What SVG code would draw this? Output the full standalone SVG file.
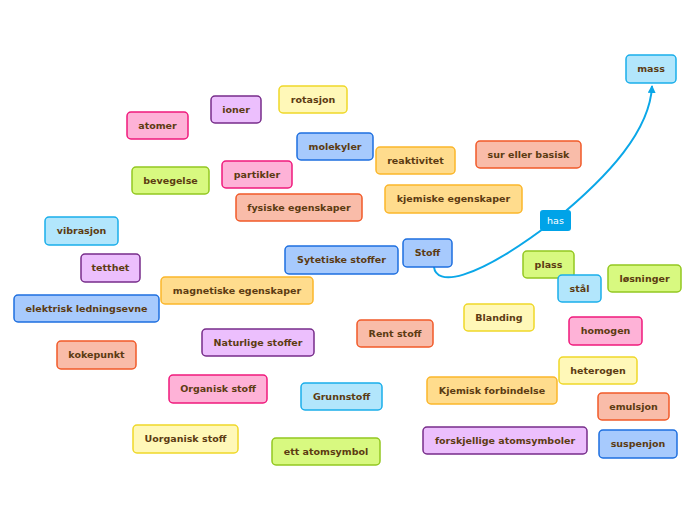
<svg xmlns="http://www.w3.org/2000/svg" width="696" height="520" viewBox="0 0 696 520">
<defs>
<style>
rect.n{stroke-width:1.5;rx:4;ry:4}
text{font-family:"DejaVu Sans","Verdana",sans-serif;font-weight:bold;font-size:9.5px;fill:#5c3b12;text-anchor:middle}
.pink{fill:#feb2d7;stroke:#f01a7c}
.purple{fill:#ecbffd;stroke:#772d8a}
.yellow{fill:#fff8b8;stroke:#efd829}
.blue{fill:#a7cafd;stroke:#1e6fdf}
.lblue{fill:#b2e6fc;stroke:#1aaeea}
.orange{fill:#ffdc8d;stroke:#fbb62a}
.salmon{fill:#f9bca9;stroke:#f15a29}
.green{fill:#d8f980;stroke:#93c720}
.conn{fill:none;stroke:#0aa7e8;stroke-width:2}
</style>
<marker id="arr" markerWidth="10" markerHeight="8" refX="7" refY="4" orient="auto" markerUnits="userSpaceOnUse">
<path d="M0,0 L8,4 L0,8 z" fill="#0aa7e8"/>
</marker>
</defs>
<rect width="696" height="520" fill="#ffffff"/>
<g id="connectors">
<path class="conn" d="M434,267 C436,285 470,285 555,220 C610,175 650,130 652,86" marker-end="url(#arr)"/>
<g id="label-has">
<rect x="540" y="210" width="31" height="21" rx="3" fill="#00a3e8"/>
<text x="555.5" y="223.5" style="fill:#ffffff;font-weight:normal">has</text>
</g>
</g>
<g id="n-atomer"><rect class="n pink" x="127" y="112" width="61" height="27"/><text x="157.5" y="128.9">atomer</text></g>
<g id="n-ioner"><rect class="n purple" x="211" y="96" width="50" height="27"/><text x="236" y="112.9">ioner</text></g>
<g id="n-rotasjon"><rect class="n yellow" x="279" y="86" width="68" height="27"/><text x="313" y="102.9">rotasjon</text></g>
<g id="n-molekyler"><rect class="n blue" x="297" y="133" width="76" height="27"/><text x="335" y="149.9">molekyler</text></g>
<g id="n-partikler"><rect class="n pink" x="222" y="161" width="70" height="27"/><text x="257" y="177.9">partikler</text></g>
<g id="n-fysiske"><rect class="n salmon" x="236" y="194" width="126" height="27"/><text x="299" y="210.9">fysiske egenskaper</text></g>
<g id="n-bevegelse"><rect class="n green" x="132" y="167" width="77" height="27"/><text x="170.5" y="183.9">bevegelse</text></g>
<g id="n-vibrasjon"><rect class="n lblue" x="45" y="217" width="73" height="28"/><text x="81.5" y="234.4">vibrasjon</text></g>
<g id="n-reaktivitet"><rect class="n orange" x="376" y="147" width="79" height="27"/><text x="415.5" y="163.9">reaktivitet</text></g>
<g id="n-sur"><rect class="n salmon" x="476" y="141" width="105" height="27"/><text x="528.5" y="157.9">sur eller basisk</text></g>
<g id="n-kjemiske"><rect class="n orange" x="385" y="185" width="137" height="28"/><text x="453.5" y="202.4">kjemiske egenskaper</text></g>
<g id="n-mass"><rect class="n lblue" x="626" y="55" width="50" height="28"/><text x="651" y="72.4">mass</text></g>
<g id="n-tetthet"><rect class="n purple" x="81" y="254" width="59" height="28"/><text x="110.5" y="271.4">tetthet</text></g>
<g id="n-elektrisk"><rect class="n blue" x="14" y="295" width="145" height="27"/><text x="86.5" y="311.9">elektrisk ledningsevne</text></g>
<g id="n-kokepunkt"><rect class="n salmon" x="57" y="341" width="79" height="28"/><text x="96.5" y="358.4">kokepunkt</text></g>
<g id="n-magnetiske"><rect class="n orange" x="161" y="277" width="152" height="27"/><text x="237" y="293.9">magnetiske egenskaper</text></g>
<g id="n-sytetiske"><rect class="n blue" x="285" y="246" width="113" height="28"/><text x="341.5" y="263.4">Sytetiske stoffer</text></g>
<g id="n-stoff"><rect class="n blue" x="403" y="239" width="49" height="28"/><text x="427.5" y="256.4">Stoff</text></g>
<g id="n-naturlige"><rect class="n purple" x="202" y="329" width="112" height="27"/><text x="258" y="345.9">Naturlige stoffer</text></g>
<g id="n-rent"><rect class="n salmon" x="357" y="320" width="76" height="27"/><text x="395" y="336.9">Rent stoff</text></g>
<g id="n-plass"><rect class="n green" x="523" y="251" width="51" height="27"/><text x="548.5" y="267.9">plass</text></g>
<g id="n-stal"><rect class="n lblue" x="558" y="275" width="43" height="27"/><text x="579.5" y="291.9">stål</text></g>
<g id="n-losninger"><rect class="n green" x="608" y="265" width="73" height="27"/><text x="644.5" y="281.9">løsninger</text></g>
<g id="n-blanding"><rect class="n yellow" x="464" y="304" width="70" height="27"/><text x="499" y="320.9">Blanding</text></g>
<g id="n-homogen"><rect class="n pink" x="569" y="317" width="73" height="28"/><text x="605.5" y="334.4">homogen</text></g>
<g id="n-heterogen"><rect class="n yellow" x="559" y="357" width="78" height="27"/><text x="598" y="373.9">heterogen</text></g>
<g id="n-kjemisk-forb"><rect class="n orange" x="427" y="377" width="130" height="27"/><text x="492" y="393.9">Kjemisk forbindelse</text></g>
<g id="n-emulsjon"><rect class="n salmon" x="598" y="393" width="71" height="27"/><text x="633.5" y="409.9">emulsjon</text></g>
<g id="n-forskjellige"><rect class="n purple" x="423" y="427" width="164" height="27"/><text x="505" y="443.9">forskjellige atomsymboler</text></g>
<g id="n-suspenjon"><rect class="n blue" x="599" y="430" width="78" height="28"/><text x="638" y="447.4">suspenjon</text></g>
<g id="n-organisk"><rect class="n pink" x="169" y="375" width="98" height="28"/><text x="218" y="392.4">Organisk stoff</text></g>
<g id="n-grunnstoff"><rect class="n lblue" x="301" y="383" width="81" height="27"/><text x="341.5" y="399.9">Grunnstoff</text></g>
<g id="n-uorganisk"><rect class="n yellow" x="133" y="425" width="105" height="28"/><text x="185.5" y="442.4">Uorganisk stoff</text></g>
<g id="n-ett"><rect class="n green" x="272" y="438" width="108" height="27"/><text x="326" y="454.9">ett atomsymbol</text></g>
</svg>
